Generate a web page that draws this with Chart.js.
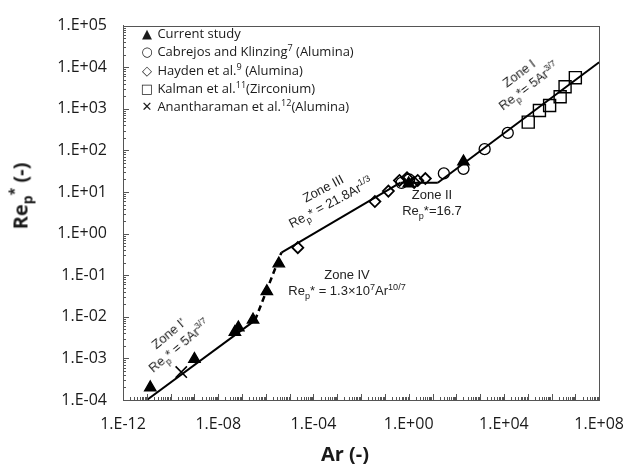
<!DOCTYPE html>
<html>
<head>
<meta charset="utf-8">
<script src="https://cdn.jsdelivr.net/npm/chart.js@4.4.0/dist/chart.umd.min.js"></script>
<style>
  html, body { margin: 0; padding: 0; background: #fff; }
  #wrap { position: relative; width: 639px; height: 464px; overflow: hidden; }
  #chart { position: absolute; left: 0; top: 0; }
  .txt { position: absolute; font-family: 'Liberation Sans', Arial, sans-serif; font-size: 13px; line-height: 16px; color: #222; white-space: nowrap; text-align: center; transform: translate(-50%, -50%); }
  .txt sub, .txt sup, .leg sup, .ttl sub, .ttl sup { font-size: 70%; line-height: 0; }
  .leg { position: absolute; left: 140px; top: 24px; font-family: 'Open Sans', sans-serif; font-size: 13px; color: #1a1a1a; }
  .leg div { height: 18.3px; line-height: 18.3px; white-space: nowrap; }
  .leg span.s { display: inline-block; width: 14px; text-align: center; font-family: 'DejaVu Sans', sans-serif; font-size: 13px; font-weight: bold; }
  .ttl { position: absolute; font-family: 'Open Sans', sans-serif; font-weight: bold; font-size: 20px; color: #1a1a1a; white-space: nowrap; transform: translate(-50%, -50%); }
</style>
</head>
<body>
<div id="wrap">
  <canvas id="chart" width="639" height="464"></canvas>
  <div class="leg">
    <div><span class="s">&#9650;</span> Current study</div>
    <div><span class="s">&#9675;</span> Cabrejos and Klinzing<sup>7</sup> (Alumina)</div>
    <div><span class="s">&#9671;</span> Hayden et al.<sup>9</sup> (Alumina)</div>
    <div><span class="s">&#9633;</span> Kalman et al.<sup>11</sup>(Zirconium)</div>
    <div><span class="s">&#10005;</span> Anantharaman et al.<sup>12</sup>(Alumina)</div>
  </div>
  <div class="txt" style="left:524px;top:80px;transform:translate(-50%,-50%) rotate(-37deg);">Zone I<br>Re<sub>p</sub>*= 5Ar<sup>3/7</sup></div>
  <div class="txt" style="left:432px;top:203px;">Zone II<br>Re<sub>p</sub>*=16.7</div>
  <div class="txt" style="left:327px;top:196px;transform:translate(-50%,-50%) rotate(-28deg);">Zone III<br>Re<sub>p</sub>* = 21.8Ar<sup>1/3</sup></div>
  <div class="txt" style="left:347px;top:283px;">Zone IV<br>Re<sub>p</sub>* = 1.3&times;10<sup>7</sup>Ar<sup>10/7</sup></div>
  <div class="txt" style="left:174px;top:340px;transform:translate(-50%,-50%) rotate(-40deg);">Zone I'<br>Re<sub>p</sub>* = 5Ar<sup>3/7</sup></div>
  <div class="ttl" style="left:345px;top:453px;">Ar (-)</div>
  <div class="ttl" style="left:20px;top:196px;transform:translate(-50%,-50%) rotate(-90deg);">Re<sub>p</sub><sup>*</sup> (-)</div>
</div>
<script>
// tick values (decades shown as labels)
var xTicks = [1e-12, 1e-8, 1e-4, 1, 1e4, 1e8];
var yTicks = [1e-4, 1e-3, 1e-2, 1e-1, 1, 1e1, 1e2, 1e3, 1e4, 1e5];

// Current study
var currentAr = [1.4e-11, 1.0e-9, 5.0e-8, 7.0e-8, 2.9e-7, 1.1e-6, 3.5e-6, 1.0, 200];
var currentRe = [2.0e-4, 9.6e-4, 4.3e-3, 5.5e-3, 8.5e-3, 4.1e-2, 0.19, 16, 54];
// Cabrejos and Klinzing
var cabrejosAr = [0.5, 1.05, 30, 200, 1550, 14500];
var cabrejosRe = [16.5, 20, 28, 36, 107, 263];
// Hayden et al.
var haydenAr = [2.2e-5, 0.038, 0.14, 0.41, 0.85, 1.7, 2.4, 5.0];
var haydenRe = [0.46, 5.9, 10.5, 19, 22, 17, 19, 21];
// Kalman et al.
var kalmanAr = [1.05e5, 3.1e5, 8.3e5, 2.3e6, 3.7e6, 1.0e7];
var kalmanRe = [479, 912, 1200, 1950, 3400, 5600];
// Anantharaman et al.
var ananAr = [2.8e-10];
var ananRe = [4.7e-4];

// correlation lines (segment end points)
var zone1pAr = [1.0e-11, 3.5e-7];
var zone1pRe = [1.0e-4, 8.2e-3];
var zone4Ar = [3.5e-7, 4.5e-6];
var zone4Re = [8.2e-3, 0.35];
var zone3Ar = [4.5e-6, 0.45];
var zone3Re = [0.35, 16.7];
var zone2Ar = [0.45, 16.7];
var zone2Re = [16.7, 16.7];
var zone1Ar = [16.7, 1e8];
var zone1Re = [16.7, 13200];

function pts(xs, ys) {
  var out = [];
  for (var i = 0; i < xs.length; i++) out.push({ x: xs[i], y: ys[i] });
  return out;
}

function fmtTick(v) {
  var e = Math.round(Math.log10(v));
  var a = Math.abs(e);
  return '1.E' + (e < 0 ? '-' : '+') + (a < 10 ? '0' : '') + a;
}

function lineSet(xs, ys, dash) {
  return { data: pts(xs, ys), showLine: true, pointRadius: 0, borderColor: '#000', borderWidth: dash ? 2.5 : 2, borderDash: dash ? [6, 4] : [], fill: false };
}

function markSet(xs, ys, style, r, filled, bw) {
  return { data: pts(xs, ys), showLine: false, pointStyle: style, pointRadius: r, pointBorderWidth: bw, pointBorderColor: '#000', pointBackgroundColor: filled ? '#000' : 'rgba(0,0,0,0)' };
}

var axisDecor = {
  id: 'axisDecor',
  afterDraw: function(chart) {
    var ctx = chart.ctx, a = chart.chartArea, xs = chart.scales.x, ys = chart.scales.y;
    ctx.save();
    ctx.strokeStyle = '#555';
    ctx.lineWidth = 1;
    ctx.strokeRect(Math.round(a.left) + 0.5, Math.round(a.top) + 0.5, Math.round(a.right - a.left), Math.round(a.bottom - a.top));
    ctx.beginPath();
    var e, k, p;
    for (e = -12; e <= 8; e++) {
      for (k = 1; k < 10; k++) {
        if (e === 8 && k > 1) break;
        p = Math.round(xs.getPixelForValue(k * Math.pow(10, e))) + 0.5;
        ctx.moveTo(p, a.bottom);
        ctx.lineTo(p, a.bottom - (k === 1 ? 6 : 3));
      }
    }
    for (e = -4; e <= 5; e++) {
      for (k = 1; k < 10; k++) {
        if (e === 5 && k > 1) break;
        p = Math.round(ys.getPixelForValue(k * Math.pow(10, e))) + 0.5;
        ctx.moveTo(a.left, p);
        ctx.lineTo(a.left + (k === 1 ? 6 : 3), p);
      }
    }
    ctx.stroke();
    ctx.restore();
  }
};

var tickFont = { family: "'Open Sans', sans-serif", size: 16 };

new Chart(document.getElementById('chart').getContext('2d'), {
  type: 'scatter',
  data: {
    datasets: [
      markSet(currentAr, currentRe, 'triangle', 6.5, true, 1.4),
      markSet(cabrejosAr, cabrejosRe, 'circle', 5.5, false, 1.3),
      markSet(haydenAr, haydenRe, 'rectRot', 5.5, false, 1.8),
      markSet(kalmanAr, kalmanRe, 'rect', 8.5, false, 1.4),
      markSet(ananAr, ananRe, 'crossRot', 8, false, 1.6),
      lineSet(zone1pAr, zone1pRe, false),
      lineSet(zone4Ar, zone4Re, true),
      lineSet(zone3Ar, zone3Re, false),
      lineSet(zone2Ar, zone2Re, false),
      lineSet(zone1Ar, zone1Re, false)
    ]
  },
  options: {
    responsive: false,
    animation: false,
    layout: { padding: { top: 18, right: 31, left: 0, bottom: 0 } },
    plugins: { legend: { display: false }, tooltip: { enabled: false } },
    scales: {
      x: {
        type: 'logarithmic', min: 1e-12, max: 1e8,
        afterBuildTicks: function(s) { s.ticks = xTicks.map(function(v) { return { value: v }; }); },
        afterFit: function(s) { s.height = 64; },
        grid: { display: false, drawTicks: false },
        border: { display: true, color: '#555', width: 1 },
        ticks: { padding: 15, maxRotation: 0, autoSkip: false, color: '#1a1a1a', font: tickFont, callback: fmtTick }
      },
      y: {
        type: 'logarithmic', min: 1e-4, max: 1e5,
        afterBuildTicks: function(s) { s.ticks = yTicks.map(function(v) { return { value: v }; }); },
        afterFit: function(s) { s.width = 123; },
        grid: { display: false, drawTicks: false },
        border: { display: true, color: '#555', width: 1 },
        ticks: { padding: 16, autoSkip: false, color: '#1a1a1a', font: tickFont, callback: fmtTick }
      }
    }
  },
  plugins: [axisDecor]
});
</script>
</body>
</html>
